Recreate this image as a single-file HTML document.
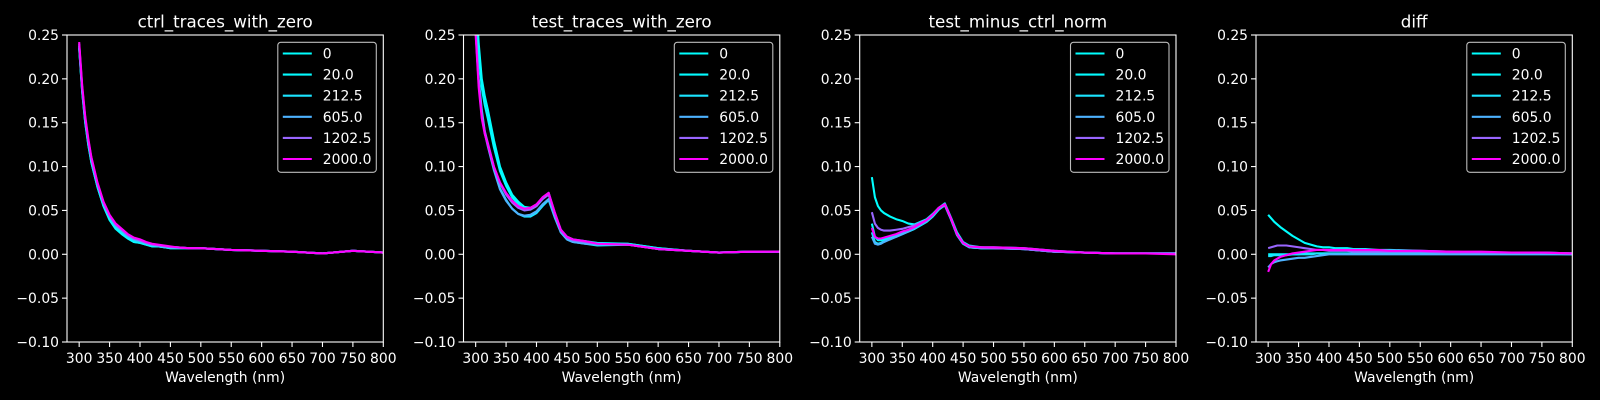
<!DOCTYPE html>
<html><head><meta charset="utf-8"><style>
html,body{margin:0;padding:0;background:#000;}
svg{display:block;font-family:"DejaVu Sans","Liberation Sans",sans-serif;}
</style></head><body>
<svg id="fig" width="1600" height="400" viewBox="0 0 1600 400" xmlns="http://www.w3.org/2000/svg">
<rect width="1600" height="400" fill="#000"/>
</svg>
<script>
const wavelengths=[300,305,310,315,320,330,340,350,360,370,380,390,400,410,420,430,440,450,460,480,500,550,600,650,700,750,800];
const seriesLabels=["0","20.0","212.5","605.0","1202.5","2000.0"];
const seriesColors=["#00ffff","#04fbff","#1be4ff","#4db2ff","#9966ff","#ff00ff"];
const panelTitles=["ctrl_traces_with_zero","test_traces_with_zero","test_minus_ctrl_norm","diff"];
const yTicks=[-0.10,-0.05,0.00,0.05,0.10,0.15,0.20,0.25];
const xTicks=[300,350,400,450,500,550,600,650,700,750,800];
// panel 1: ctrl
const ctrl0=[0.235,0.185,0.15,0.125,0.105,0.077,0.055,0.040,0.030,0.024,0.018,0.014,0.013,0.011,0.009,0.009,0.008,0.007,0.007,0.007,0.007,0.005,0.004,0.003,0.001,0.004,0.002];
const ctrl20=[0.235,0.185,0.15,0.125,0.105,0.077,0.055,0.039,0.029,0.023,0.018,0.014,0.013,0.011,0.009,0.009,0.008,0.007,0.007,0.007,0.007,0.005,0.004,0.003,0.001,0.004,0.002];
const ctrl212=[0.237,0.187,0.152,0.127,0.107,0.079,0.057,0.042,0.032,0.026,0.020,0.016,0.014,0.012,0.010,0.009,0.008,0.008,0.008,0.007,0.007,0.005,0.004,0.003,0.001,0.004,0.002];
const ctrl605=[0.238,0.188,0.153,0.128,0.108,0.080,0.058,0.043,0.033,0.027,0.021,0.017,0.015,0.013,0.011,0.010,0.009,0.008,0.008,0.007,0.007,0.005,0.004,0.003,0.001,0.004,0.002];
const ctrl1202=[0.24,0.19,0.155,0.13,0.11,0.081,0.059,0.044,0.034,0.028,0.022,0.018,0.016,0.013,0.011,0.010,0.009,0.008,0.008,0.007,0.007,0.005,0.004,0.003,0.001,0.004,0.002];
const ctrl2000=[0.242,0.192,0.157,0.132,0.111,0.082,0.060,0.045,0.035,0.029,0.023,0.019,0.017,0.014,0.012,0.011,0.010,0.009,0.008,0.007,0.007,0.005,0.004,0.003,0.001,0.004,0.002];
// panel 2: test
const test0=[0.30,0.24,0.20,0.18,0.165,0.13,0.10,0.082,0.068,0.06,0.054,0.053,0.056,0.064,0.07,0.047,0.028,0.02,0.017,0.015,0.013,0.012,0.007,0.004,0.002,0.003,0.003];
const test20=[0.29,0.23,0.19,0.17,0.155,0.122,0.095,0.078,0.065,0.057,0.052,0.051,0.055,0.063,0.069,0.046,0.027,0.019,0.016,0.014,0.012,0.012,0.007,0.004,0.002,0.003,0.003];
const test212=[0.26,0.20,0.165,0.14,0.125,0.098,0.075,0.062,0.052,0.046,0.043,0.043,0.047,0.055,0.062,0.042,0.025,0.017,0.014,0.012,0.010,0.011,0.006,0.004,0.002,0.003,0.003];
const test605=[0.255,0.195,0.16,0.138,0.123,0.096,0.074,0.061,0.052,0.046,0.044,0.045,0.049,0.057,0.063,0.043,0.025,0.017,0.014,0.012,0.011,0.011,0.006,0.004,0.002,0.003,0.003];
const test1202=[0.255,0.195,0.16,0.14,0.127,0.10,0.081,0.068,0.059,0.053,0.05,0.051,0.055,0.063,0.068,0.046,0.027,0.019,0.016,0.014,0.012,0.011,0.006,0.004,0.002,0.003,0.003];
const test2000=[0.25,0.19,0.155,0.137,0.125,0.10,0.082,0.07,0.061,0.055,0.052,0.053,0.057,0.065,0.070,0.048,0.028,0.02,0.017,0.015,0.012,0.011,0.006,0.004,0.002,0.003,0.003];
// panel 3: test minus ctrl norm
const norm0=[0.088,0.065,0.055,0.05,0.047,0.043,0.04,0.038,0.035,0.034,0.037,0.040,0.046,0.053,0.058,0.042,0.025,0.014,0.01,0.008,0.008,0.007,0.004,0.002,0.001,0.001,0.001];
const norm20=[0.035,0.02,0.016,0.016,0.017,0.019,0.021,0.024,0.026,0.029,0.033,0.037,0.043,0.051,0.056,0.04,0.022,0.012,0.008,0.007,0.007,0.006,0.003,0.002,0.001,0.001,0.001];
const norm212=[0.025,0.014,0.012,0.013,0.015,0.018,0.02,0.023,0.026,0.029,0.033,0.037,0.043,0.051,0.056,0.04,0.022,0.012,0.008,0.007,0.007,0.006,0.003,0.002,0.001,0.001,0.001];
const norm605=[0.02,0.012,0.011,0.012,0.014,0.017,0.02,0.023,0.026,0.03,0.034,0.038,0.044,0.052,0.056,0.04,0.022,0.012,0.008,0.007,0.007,0.006,0.003,0.002,0.001,0.001,0.001];
const norm1202=[0.048,0.035,0.03,0.028,0.027,0.027,0.028,0.029,0.031,0.033,0.036,0.039,0.045,0.053,0.057,0.041,0.023,0.013,0.009,0.008,0.007,0.006,0.003,0.002,0.001,0.001,0.001];
const norm2000=[0.03,0.02,0.018,0.018,0.019,0.021,0.023,0.026,0.028,0.031,0.035,0.039,0.045,0.053,0.057,0.041,0.023,0.013,0.009,0.008,0.008,0.007,0.004,0.002,0.001,0.001,0.0];
// panel 4: diff
const diff0=[0.045,0.041,0.037,0.034,0.031,0.026,0.021,0.017,0.013,0.011,0.009,0.008,0.008,0.007,0.007,0.007,0.006,0.006,0.006,0.005,0.005,0.004,0.003,0.002,0.002,0.002,0.001];
const diff20=[0.0,0.0,0.0,0.0,0.0,0.0,0.0,0.0,0.001,0.001,0.001,0.001,0.001,0.001,0.001,0.001,0.001,0.001,0.001,0.001,0.001,0.001,0.001,0.001,0.001,0.001,0.001];
const diff212=[-0.002,-0.002,-0.001,-0.001,-0.001,-0.001,0.0,0.0,0.0,0.0,0.001,0.001,0.001,0.001,0.001,0.001,0.001,0.001,0.001,0.001,0.001,0.001,0.001,0.001,0.001,0.001,0.0];
const diff605=[-0.015,-0.011,-0.009,-0.008,-0.007,-0.006,-0.005,-0.004,-0.004,-0.003,-0.002,-0.001,0.0,0.0,0.0,0.0,0.0,0.0,0.0,0.0,0.0,0.0,0.0,0.0,0.0,0.0,0.0];
const diff1202=[0.007,0.008,0.009,0.01,0.01,0.01,0.009,0.008,0.007,0.006,0.005,0.005,0.004,0.004,0.004,0.004,0.003,0.003,0.003,0.003,0.003,0.003,0.002,0.002,0.002,0.002,0.001];
const diff2000=[-0.02,-0.011,-0.007,-0.005,-0.003,-0.001,0.001,0.002,0.003,0.004,0.005,0.005,0.005,0.005,0.005,0.005,0.005,0.005,0.005,0.005,0.004,0.004,0.003,0.003,0.002,0.002,0.001];

const panelSeries=[
 [ctrl0,ctrl20,ctrl212,ctrl605,ctrl1202,ctrl2000],
 [test0,test20,test212,test605,test1202,test2000],
 [norm0,norm20,norm212,norm605,norm1202,norm2000],
 [diff0,diff20,diff212,diff605,diff1202,diff2000]
];

const NS="http://www.w3.org/2000/svg";
const svg=document.getElementById('fig');
const lefts=[67,463.5,859.7,1256];
const W=316.3,TOP=35,H=307;
const XMIN=280,XMAX=800,YMIN=-0.10,YMAX=0.25;
function mk(tag,attrs,parent){const e=document.createElementNS(NS,tag);for(const k in attrs)e.setAttribute(k,attrs[k]);(parent||svg).appendChild(e);return e;}

panelTitles.forEach((title,p)=>{
  const L=lefts[p];
  const g=mk('g',{});
  
  
  const xs=v=>L+(v-XMIN)/(XMAX-XMIN)*W;
  const ys=v=>TOP+(YMAX-v)/(YMAX-YMIN)*H;
  const defs=mk('defs',{},g);
  const cp=mk('clipPath',{id:'clip'+p},defs);
  mk('rect',{x:L,y:TOP,width:W,height:H},cp);
  const sg=mk('g',{'clip-path':'url(#clip'+p+')'},g);
  panelSeries[p].forEach((arr,i)=>{
    const d=arr.map((v,j)=>(j?'L':'M')+xs(wavelengths[j]).toFixed(2)+','+ys(v).toFixed(2)).join(' ');
    const path=mk('path',{d:d,fill:'none',stroke:seriesColors[i],'stroke-width':2.1,'stroke-linejoin':'round'},sg);
    
    
  });
  mk('rect',{x:L,y:TOP,width:W,height:H,fill:'none',stroke:'#fff','stroke-width':1.1},g);
  yTicks.forEach(t=>{
    const y=ys(t);
    mk('line',{x1:L-5,x2:L,y1:y,y2:y,stroke:'#fff','stroke-width':1.1},g);
    const tx=mk('text',{x:L-8,y:y+5,'text-anchor':'end','font-size':13.9,fill:'#fff'},g);
    tx.textContent=(t<0?'\u2212':'')+Math.abs(t).toFixed(2);
    
    
  });
  xTicks.forEach(t=>{
    const x=xs(t);
    mk('line',{x1:x,x2:x,y1:TOP+H,y2:TOP+H+5,stroke:'#fff','stroke-width':1.1},g);
    const tx=mk('text',{x:x,y:TOP+H+21,'text-anchor':'middle','font-size':13.9,fill:'#fff'},g);
    tx.textContent=t;
    
    
  });
  const xl=mk('text',{x:L+W/2,y:382,'text-anchor':'middle','font-size':13.9,fill:'#fff'},g);
  xl.textContent='Wavelength (nm)';
  
  
  const tt=mk('text',{x:L+W/2,y:27.5,'text-anchor':'middle','font-size':16.7,fill:'#fff'},g);
  tt.textContent=title;
  
  
  const lg=mk('g',{},g);
  
  
  const lx=L+W-105.5;
  mk('rect',{x:lx,y:42.3,width:98.5,height:130,rx:3,fill:'#000',stroke:'#bbb','stroke-width':1.1},lg);
  seriesLabels.forEach((lab,i)=>{
    const y=53.5+i*21.1;
    mk('line',{x1:lx+5,x2:lx+34,y1:y,y2:y,stroke:seriesColors[i],'stroke-width':2.1},lg);
    const t=mk('text',{x:lx+45,y:y+5,'font-size':13.9,fill:'#fff'},lg);
    t.textContent=lab;
    
    
  });
});
</script>
</body></html>
